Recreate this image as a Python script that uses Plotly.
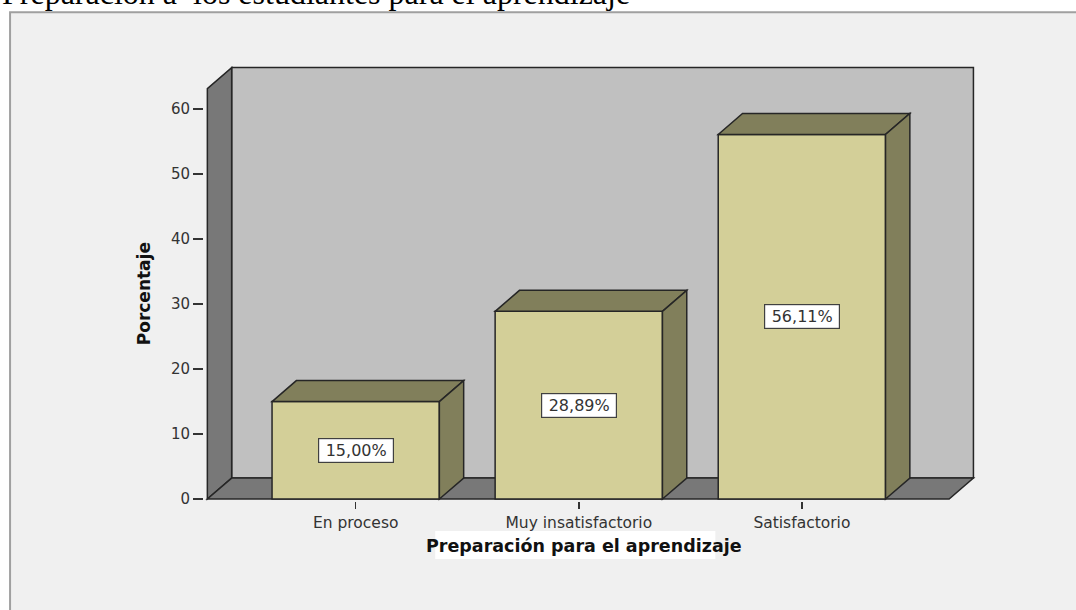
import plotly.graph_objects as go

# ---- data ----
categories = ["En proceso", "Muy insatisfactorio", "Satisfactorio"]
percentages = [15.00, 28.89, 56.11]
label_texts = ["15,00%", "28,89%", "56,11%"]
y_ticks = [0, 10, 20, 30, 40, 50, 60]

# ---- geometry (pixel calibration of the reference) ----
W, H = 1076, 610
X0, XS = 355.5, 223.0      # pixel of category 0, pixels per category
Y0, YS = 499.0, 6.5        # pixel of value 0, pixels per unit
x_range = [-0.68, 2.785]
y_range = [-0.3, 66.8]
left = X0 + x_range[0] * XS
right = X0 + x_range[1] * XS
top = Y0 - y_range[1] * YS
bottom = Y0 - y_range[0] * YS
pw, ph = right - left, bottom - top

def pxx(px):
    return (px - left) / pw

def pxy(py):
    return (bottom - py) / ph

# 3D box parameters (data units)
xL, xR = -0.665, 2.769
ytop = 66.4
dx, dy = 0.109, 3.23
bw = 0.75

EDGE = "#262626"
FRONT = "#d3cf98"
SHADE = "#817f5b"
WALL = "#c0c0c0"
DARK = "#787878"

def path(pts):
    return "M " + " L ".join(f"{x},{y}" for x, y in pts) + " Z"

shapes = []
# outer frame
shapes.append(dict(type="rect", xref="paper", yref="paper",
                   x0=pxx(10), x1=pxx(1090), y0=pxy(12), y1=pxy(640),
                   fillcolor="#f0f0f0", line=dict(color="#a0a0a0", width=2), layer="below"))
# white band behind x-axis title
shapes.append(dict(type="rect", xref="paper", yref="paper",
                   x0=pxx(435), x1=pxx(715), y0=pxy(531), y1=pxy(559),
                   fillcolor="white", line=dict(width=0), layer="below"))
# back wall
shapes.append(dict(type="rect", xref="x", yref="y", x0=xL + dx, x1=xR, y0=dy, y1=ytop,
                   fillcolor=WALL, line=dict(color=EDGE, width=1.5), layer="below"))
# left wall
shapes.append(dict(type="path", xref="x", yref="y",
                   path=path([(xL, 0), (xL + dx, dy), (xL + dx, ytop), (xL, ytop - dy)]),
                   fillcolor=DARK, line=dict(color=EDGE, width=1.5), layer="below"))
# floor
shapes.append(dict(type="path", xref="x", yref="y",
                   path=path([(xL, 0), (xR - dx, 0), (xR, dy), (xL + dx, dy)]),
                   fillcolor=DARK, line=dict(color=EDGE, width=1.5), layer="below"))

# bar top and side faces
for i, v in enumerate(percentages):
    a, b = i - bw / 2, i + bw / 2
    shapes.append(dict(type="path", xref="x", yref="y",
                       path=path([(a, v), (a + dx, v + dy), (b + dx, v + dy), (b, v)]),
                       fillcolor=SHADE, line=dict(color=EDGE, width=1.5), layer="above"))
    shapes.append(dict(type="path", xref="x", yref="y",
                       path=path([(b, 0), (b + dx, dy), (b + dx, v + dy), (b, v)]),
                       fillcolor=SHADE, line=dict(color=EDGE, width=1.5), layer="above"))

fig = go.Figure()
fig.add_trace(go.Bar(
    x=list(range(len(categories))), y=percentages, width=bw,
    marker=dict(color=FRONT, line=dict(color=EDGE, width=1.5)),
    hoverinfo="skip", showlegend=False,
))

annotations = []
for i, (v, t) in enumerate(zip(percentages, label_texts)):
    annotations.append(dict(x=i, y=v / 2, xref="x", yref="y", text=t, showarrow=False,
                            font=dict(family="DejaVu Sans", size=16, color="#333333"),
                            bgcolor="white", bordercolor="#404040", borderwidth=1.2,
                            width=72, height=21, borderpad=1))
# axis titles
annotations.append(dict(x=pxx(584), y=pxy(546), xref="paper", yref="paper",
                        text="<b>Preparación para el aprendizaje</b>", showarrow=False,
                        font=dict(family="DejaVu Sans", size=17.5, color="#111111"),
                        xanchor="center", yanchor="middle"))
annotations.append(dict(x=pxx(144), y=pxy(294), xref="paper", yref="paper",
                        text="<b>Porcentaje</b>", showarrow=False, textangle=-90,
                        font=dict(family="DejaVu Sans", size=17, color="#111111"),
                        xanchor="center", yanchor="middle"))
# document caption (cut off at the top, as in the reference)
annotations.append(dict(x=pxx(0), y=pxy(-7), xref="paper", yref="paper",
                        text="Preparación a  los estudiantes para el aprendizaje",
                        showarrow=False, xanchor="left", yanchor="middle",
                        font=dict(family="Liberation Serif", size=32, color="#000000")))

fig.update_layout(
    width=W, height=H,
    margin=dict(l=left, r=W - right, t=top, b=H - bottom, autoexpand=False),
    paper_bgcolor="white", plot_bgcolor="#f0f0f0",
    shapes=shapes, annotations=annotations,
    bargap=0,
    xaxis=dict(range=x_range, tickmode="array", tickvals=list(range(len(categories))),
               ticktext=categories, showgrid=False, zeroline=False, showline=False,
               ticks="outside", ticklen=7, tickwidth=1.5, tickcolor="#333333",
               tickfont=dict(family="DejaVu Sans", size=15.5, color="#333333"),
               fixedrange=True),
    yaxis=dict(range=y_range, tickmode="array", tickvals=y_ticks,
               showgrid=False, zeroline=False, showline=False,
               ticks="outside", ticklen=10, tickwidth=1.5, tickcolor="#333333",
               tickfont=dict(family="DejaVu Sans", size=15, color="#333333"),
               fixedrange=True),
)

fig.write_html("out.html", config={"displayModeBar": False, "staticPlot": True},
               post_script="document.body.style.margin='0';document.body.style.overflow='hidden';")
